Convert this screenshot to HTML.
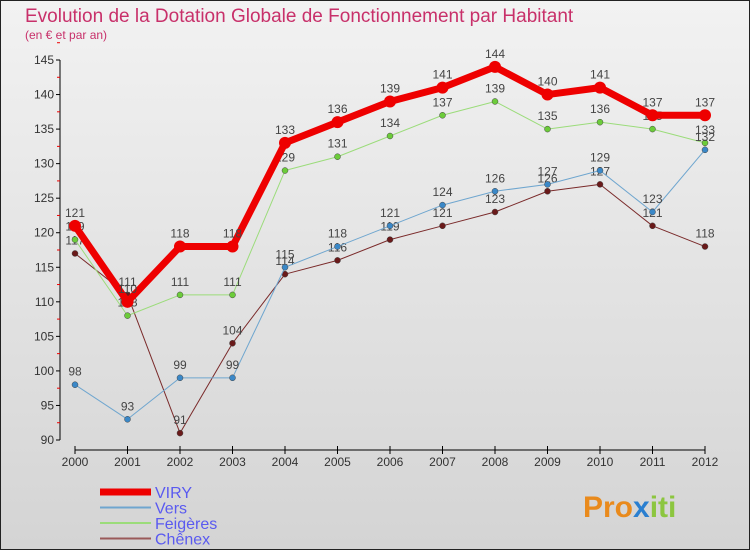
<!DOCTYPE html>
<html><head><meta charset="utf-8"><style>
body{margin:0;width:750px;height:550px;overflow:hidden;font-family:"Liberation Sans",sans-serif}
</style></head><body>
<svg width="750" height="550" xmlns="http://www.w3.org/2000/svg">
<defs><linearGradient id="bg" x1="0" y1="0" x2="0" y2="1"><stop offset="0" stop-color="#f2f2f2"/><stop offset="1" stop-color="#d4d4d4"/></linearGradient></defs>
<rect x="0.5" y="0.5" width="749" height="549" fill="url(#bg)" stroke="#222"/>
<text x="25" y="22" font-size="19" fill="#c8306a">Evolution de la Dotation Globale de Fonctionnement par Habitant</text>
<text x="25" y="39" font-size="12" fill="#c8306a">(en € et par an)</text>
<g id="axes"></g>
<g id="series"></g>
<g id="legend"></g>
<text x="583" y="517" font-size="30" font-weight="bold" fill="#e98a1c">Pro<tspan fill="#2a7fd0">x</tspan><tspan fill="#8cc63f">iti</tspan></text>
</svg>
<script>
const years=["2000","2001","2002","2003","2004","2005","2006","2007","2008","2009","2010","2011","2012"];
const yTicks=[90,95,100,105,110,115,120,125,130,135,140,145];
const viry=[121,110,118,118,133,136,139,141,144,140,141,137,137];
const vers=[98,93,99,99,115,118,121,124,126,127,129,123,132];
const feigeres=[119,108,111,111,129,131,134,137,139,135,136,135,133];
const chenex=[117,111,91,104,114,116,119,121,123,126,127,121,118];
const NS="http://www.w3.org/2000/svg";
const X=i=>75+i*52.5;
const Y=v=>440-(v-90)*380/55;
function mk(t,a,p){const e=document.createElementNS(NS,t);for(const k in a)e.setAttribute(k,a[k]);p.appendChild(e);return e;}
const ax=document.getElementById('axes');
const yl=mk('line',{x1:60,y1:Y(145),x2:60,y2:Y(90),stroke:'#000'},ax);


yTicks.forEach(v=>{
  mk('line',{x1:56,y1:Y(v),x2:60,y2:Y(v),stroke:'#000'},ax);
  mk('line',{x1:57,y1:Y(v+2.5),x2:60,y2:Y(v+2.5),stroke:'#e00'},ax);
  const t=mk('text',{x:54,y:Y(v)+4,'font-size':12,fill:'#333','text-anchor':'end'},ax);t.textContent=v;
  
  
});
const xl=mk('line',{x1:75,y1:450,x2:705,y2:450,stroke:'#000'},ax);


years.forEach((y,i)=>{
  mk('line',{x1:X(i),y1:446,x2:X(i),y2:454,stroke:'#000'},ax);
  const t=mk('text',{x:X(i),y:466,'font-size':12,fill:'#333','text-anchor':'middle'},ax);t.textContent=y;
  
  
});
const sg=document.getElementById('series');
const defs=[
 {n:'chenex',d:chenex,c:'#7a2a2a',w:1,r:3,f:'#6a1a1a'},
 {n:'feigeres',d:feigeres,c:'#9bdc7a',w:1,r:3,f:'#6ccc3a'},
 {n:'vers',d:vers,c:'#6fa6cf',w:1,r:3,f:'#3a88c8'},
 {n:'viry',d:viry,c:'#ee0000',w:7,r:6,f:'#ee0000'}];
defs.forEach(s=>{
  const g=mk('g',{},sg);
  
  
  const pl=mk('polyline',{points:s.d.map((v,i)=>X(i)+','+Y(v)).join(' '),fill:'none',stroke:s.c,'stroke-width':s.w,'stroke-linejoin':'round'},g);
  
  
  s.d.forEach((v,i)=>{
    const c=mk('circle',{cx:X(i),cy:Y(v),r:s.r,fill:s.f,stroke:'#444','stroke-width':s.n=='viry'?0:0.5},g);
    
    
    const t=mk('text',{x:X(i),y:Y(v)-9,'font-size':12,fill:'#444','text-anchor':'middle'},g);t.textContent=v;
    
    
  });
});
const lg=document.getElementById('legend');
[['VIRY','#ee0000',7],['Vers','#6fa6cf',2],['Feigères','#9bdc7a',2],['Chênex','#9a5a5a',2]].forEach((e,i)=>{
  const y=492+i*15.5;
  const g=mk('g',{},lg);
  
  
  mk('line',{x1:100,y1:y,x2:151,y2:y,stroke:e[1],'stroke-width':e[2]},g);
  const t=mk('text',{x:155,y:y+6,'font-size':16,fill:'#5a5af0'},g);t.textContent=e[0];
});
</script>
</body></html>
